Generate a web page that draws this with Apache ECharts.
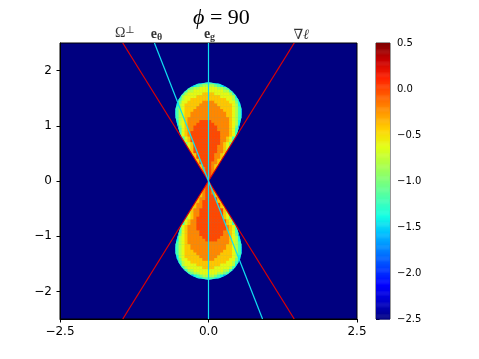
<!DOCTYPE html>
<html>
<head>
  <meta charset="UTF-8" />
  <title>phi = 90</title>
  <script src="https://cdn.jsdelivr.net/npm/echarts@6/dist/echarts.min.js"></script>
  <style>
    html, body { margin: 0; padding: 0; background: #fff; }
    #chart { width: 479px; height: 359px; }
  </style>
</head>
<body>
  <div id="chart"></div>
  <script>
    // field on a 0.05 x 0.05 grid
    // '.' = outside (-2.5, left to the plot background), digit = index into levels
    const cellSize = 0.05;
    const colStart = -0.575;   // centre of the first column
    const levels = [-1.8, -1.6, -1.4, -1.2, -1.0, -0.8, -0.6, -0.4, -0.2, 0.0];

    // rows from y = 1.775 down to y = 0.025
    const upperLobe = [
      ".......1223333221.......",
      "......123455554321......",
      "....1345566666655431....",
      "...135566666666665531...",
      "..13566666777766666531..",
      "..25666677777777666652..",
      ".1356677777777777766531.",
      ".2466777778888777776642.",
      ".2567777788888877777652.",
      "135677778888888877776531",
      "135677788888888887776531",
      "135677888888888888776531",
      "135677888888888888776531",
      "135678888888888888876531",
      ".2567888899998888887652.",
      ".2567888999999888887652.",
      ".1467889999999988887641.",
      "..36788999999998888763..",
      "..36789999999999888763..",
      "..36789999999999888763..",
      "...367999999999988763...",
      "...367999999999988763...",
      "....4679999999998764....",
      "....4679999999988764....",
      ".....57999999998875.....",
      ".....67999999998876.....",
      "......679999998876......",
      "......679999998876......",
      ".......6799999876.......",
      ".......6799998876.......",
      "........67999876........",
      ".........789987.........",
      ".........789987.........",
      "..........8998..........",
      "..........8998..........",
      "...........88..........."
    ];

    // rows from y = -0.025 down to y = -1.775
    const lowerLobe = [
      "...........88...........",
      "..........8998..........",
      "..........8998..........",
      ".........789987.........",
      ".........789987.........",
      "........67899976........",
      ".......6788999976.......",
      ".......6789999976.......",
      "......678899999976......",
      "......678899999976......",
      ".....67889999999976.....",
      ".....57889999999975.....",
      "....4678899999999764....",
      "....4678999999999764....",
      "...367889999999999763...",
      "...367889999999999763...",
      "..36788899999999998763..",
      "..36788899999999998763..",
      "..36788889999999988763..",
      ".1467888899999999887641.",
      ".2567888889999998887652.",
      ".2567888888999988887652.",
      "135678888888888888876531",
      "135677888888888888776531",
      "135677888888888888776531",
      "135677788888888887776531",
      "135677778888888877776531",
      ".2567777788888877777652.",
      ".2466777778888777776642.",
      ".1356677777777777766531.",
      "..25666677777777666652..",
      "..13566666777766666531..",
      "...135566666666665531...",
      "....1345566666655431....",
      "......123455554321......",
      ".......1223333221......."
    ];

    // outlines of the two lobes
    const upperOutline = [
      [0, 1.787], [0.18, 1.76], [0.27, 1.72], [0.333, 1.68], [0.40, 1.62], [0.46, 1.55],
      [0.50, 1.48], [0.534, 1.40], [0.556, 1.30], [0.56, 1.23], [0.553, 1.15], [0.535, 1.06],
      [0.51, 0.96], [0.48, 0.86], [0.44, 0.77], [0, 0],
      [-0.44, 0.77], [-0.48, 0.86], [-0.51, 0.96], [-0.535, 1.06], [-0.553, 1.15], [-0.56, 1.23],
      [-0.556, 1.30], [-0.534, 1.40], [-0.50, 1.48], [-0.46, 1.55], [-0.40, 1.62], [-0.333, 1.68],
      [-0.27, 1.72], [-0.18, 1.76]
    ];
    const lowerOutline = [
      [0, -1.787], [-0.18, -1.76], [-0.27, -1.72], [-0.333, -1.68], [-0.40, -1.62], [-0.46, -1.55],
      [-0.50, -1.48], [-0.534, -1.40], [-0.556, -1.30], [-0.56, -1.23], [-0.553, -1.15], [-0.535, -1.06],
      [-0.51, -0.96], [-0.48, -0.86], [-0.44, -0.77], [0, 0],
      [0.44, -0.77], [0.48, -0.86], [0.51, -0.96], [0.535, -1.06], [0.553, -1.15], [0.56, -1.23],
      [0.556, -1.30], [0.534, -1.40], [0.50, -1.48], [0.46, -1.55], [0.40, -1.62], [0.333, -1.68],
      [0.27, -1.72], [0.18, -1.76]
    ];
    const rimLevel = -1.6;

    // straight lines through the origin, ends on the plot frame
    const omegaPerp = [[-1.443, 2.5], [1.443, -2.5]];
    const gradEll = [[1.443, 2.5], [-1.443, -2.5]];
    const eG = [[0, 2.5], [0, -2.5]];
    const eTheta = [[-0.91, 2.5], [0.91, -2.5]];

    const yTicks = [-2, -1, 0, 1, 2];
    const cbMin = -2.5, cbMax = 0.5;

    const jet = ['#000080', '#0000c8', '#0000ff', '#0040ff', '#0080ff', '#00c0ff',
      '#15ffe2', '#48ffaf', '#7bff7b', '#afff48', '#e2ff15', '#ffd200',
      '#ff9700', '#ff5c00', '#ff2100', '#c80000', '#800000'];

    function decodeLobe(rows, yTop) {
      const out = [];
      rows.forEach((row, j) => {
        const y = yTop - j * cellSize;
        for (let i = 0; i < row.length; i++) {
          if (row[i] === '.') continue;
          out.push([colStart + i * cellSize, y, levels[Number(row[i])]]);
        }
      });
      return out;
    }

    const field = decodeLobe(upperLobe, 1.775).concat(decodeLobe(lowerLobe, -0.025));
    const outlines = [upperOutline, lowerOutline];
    const rims = [[0, 1, rimLevel], [0, -1, rimLevel]];

    // colorbar strips
    const cbStep = 0.01;
    const cbData = [];
    for (let v = cbMin; v < cbMax - 1e-9; v += cbStep) cbData.push([0, v, v + cbStep / 2]);

    const minus = s => String(s).replace('-', '\u2212');
    const serif = "'Liberation Serif', 'DejaVu Serif', serif";

    // keep the part of a polygon where f(p) <= 0
    function clipHalf(poly, f) {
      const out = [];
      for (let i = 0; i < poly.length; i++) {
        const a = poly[i], b = poly[(i + 1) % poly.length];
        const fa = f(a), fb = f(b);
        if (fa <= 0) out.push(a);
        if ((fa < 0 && fb > 0) || (fa > 0 && fb < 0)) {
          const t = fa / (fa - fb);
          out.push([a[0] + t * (b[0] - a[0]), a[1] + t * (b[1] - a[1])]);
        }
      }
      return out;
    }

    function clipConvex(poly, shape) {
      let area = 0;
      for (let i = 0; i < shape.length; i++) {
        const a = shape[i], b = shape[(i + 1) % shape.length];
        area += a[0] * b[1] - b[0] * a[1];
      }
      const sgn = area > 0 ? 1 : -1;
      for (let i = 0; i < shape.length && poly.length > 2; i++) {
        const a = shape[i], b = shape[(i + 1) % shape.length];
        poly = clipHalf(poly, p => -sgn * ((b[0] - a[0]) * (p[1] - a[1]) - (b[1] - a[1]) * (p[0] - a[0])));
      }
      return poly;
    }

    function renderCell(params, api) {
      const xc = api.value(0), yc = api.value(1);
      const h = cellSize / 2 + 0.004;
      let poly = [[xc - h, yc - h], [xc + h, yc - h], [xc + h, yc + h], [xc - h, yc + h]];
      poly = clipConvex(poly, yc > 0 ? upperOutline : lowerOutline);
      if (poly.length < 3) return null;
      return {
        type: 'polygon',
        shape: { points: poly.map(p => api.coord(p)) },
        style: { fill: api.visual('color') }
      };
    }

    function renderRim(params, api) {
      return {
        type: 'polygon',
        shape: { points: outlines[params.dataIndex].map(p => api.coord(p)) },
        style: { fill: api.visual('color') }
      };
    }

    function renderStrip(params, api) {
      const p = api.coord([0, api.value(1) + cbStep]);
      const q = api.coord([1, api.value(1)]);
      return {
        type: 'rect',
        shape: { x: p[0], y: p[1], width: q[0] - p[0], height: q[1] - p[1] + 0.5 },
        style: { fill: api.visual('color') }
      };
    }

    function lineSeries(data, color) {
      return {
        type: 'line', data: data, xAxisIndex: 0, yAxisIndex: 0,
        symbol: 'none', silent: true, z: 5,
        lineStyle: { color: color, width: 1.2 }
      };
    }

    const rich = {
      t: { fontFamily: serif, fontSize: 14, color: '#000' },
      sup: { fontFamily: serif, fontSize: 10, color: '#000', padding: [0, 0, 7, 0] },
      b: { fontFamily: serif, fontSize: 14, fontWeight: 'bold', color: '#000' },
      sub: { fontFamily: serif, fontSize: 10, fontWeight: 'bold', color: '#000', padding: [6, 0, 0, 0] },
      it: { fontFamily: serif, fontSize: 14, fontStyle: 'italic', color: '#000' }
    };

    const chart = echarts.init(document.getElementById('chart'));

    chart.setOption({
      animation: false,
      backgroundColor: '#fff',
      title: {
        text: '{p|\u03d5}{n| = 90}',
        left: 188, top: 2,
        textStyle: {
          fontWeight: 'normal',
          rich: {
            p: { fontFamily: serif, fontSize: 22, fontStyle: 'italic', fontWeight: 'normal', color: '#000' },
            n: { fontFamily: serif, fontSize: 22, fontWeight: 'normal', color: '#000' }
          }
        }
      },
      grid: [
        { left: 60, top: 43, width: 297, height: 276, show: true,
          backgroundColor: '#000080', borderColor: '#000', borderWidth: 1 },
        { left: 376, top: 43, width: 14, height: 276, show: true,
          backgroundColor: 'transparent', borderColor: '#000', borderWidth: 0.8 }
      ],
      xAxis: [
        { gridIndex: 0, type: 'value', min: -2.5, max: 2.5, interval: 2.5,
          axisLine: { show: true, onZero: false, lineStyle: { color: '#000' } },
          axisTick: { show: true, length: 3.5, lineStyle: { color: '#000' } },
          splitLine: { show: false },
          axisLabel: { color: '#000', fontSize: 12, fontFamily: 'DejaVu Sans', margin: 7,
            formatter: v => minus(v.toFixed(1)) } },
        { gridIndex: 1, type: 'value', min: 0, max: 1, show: false }
      ],
      yAxis: [
        { gridIndex: 0, type: 'value', min: -2.5, max: 2.5,
          axisLine: { show: true, onZero: false, lineStyle: { color: '#000' } },
          axisTick: { show: true, length: 3.5, lineStyle: { color: '#000' }, customValues: yTicks },
          splitLine: { show: false },
          axisLabel: { color: '#000', fontSize: 12, fontFamily: 'DejaVu Sans', margin: 8,
            customValues: yTicks, formatter: v => minus(v) } },
        { gridIndex: 1, type: 'value', min: cbMin, max: cbMax, interval: 0.5, position: 'right',
          axisLine: { show: false },
          axisTick: { show: true, length: 3.5, lineStyle: { color: '#000' } },
          splitLine: { show: false },
          axisLabel: { color: '#000', fontSize: 10, fontFamily: 'DejaVu Sans', margin: 7,
            formatter: v => minus(v.toFixed(1)) } }
      ],
      visualMap: {
        type: 'continuous', show: false, min: cbMin, max: cbMax,
        dimension: 2, seriesIndex: [0, 1, 2], inRange: { color: jet }
      },
      series: [
        { type: 'custom', xAxisIndex: 0, yAxisIndex: 0, data: rims, silent: true,
          renderItem: renderRim, encode: { x: 0, y: 1 }, z: 1 },
        { type: 'custom', xAxisIndex: 0, yAxisIndex: 0, data: field, silent: true,
          renderItem: renderCell, encode: { x: 0, y: 1 }, z: 2 },
        { type: 'custom', xAxisIndex: 1, yAxisIndex: 1, data: cbData, silent: true,
          renderItem: renderStrip, encode: { x: 0, y: 1 }, z: 2 },
        lineSeries(omegaPerp, '#e00000'),
        lineSeries(gradEll, '#e00000'),
        lineSeries(eG, '#10e0f0'),
        lineSeries(eTheta, '#10e0f0'),
        {
          type: 'scatter', xAxisIndex: 0, yAxisIndex: 0, symbolSize: 0, silent: true, z: 6,
          label: { show: true, position: 'top', distance: 4, color: '#000', rich: rich },
          data: [
            { value: omegaPerp[0], label: { formatter: '{t|\u03a9}{sup|\u22a5}', offset: [2, 3] } },
            { value: eTheta[0], label: { formatter: '{b|e}{sub|\u03b8}', offset: [2, 3] } },
            { value: eG[0], label: { formatter: '{b|e}{sub|g}', offset: [1, 3] } },
            { value: gradEll[0], label: { formatter: '{t|\u2207}{it|\u2113}', offset: [7, 3] } }
          ]
        }
      ]
    });
  </script>
</body>
</html>
